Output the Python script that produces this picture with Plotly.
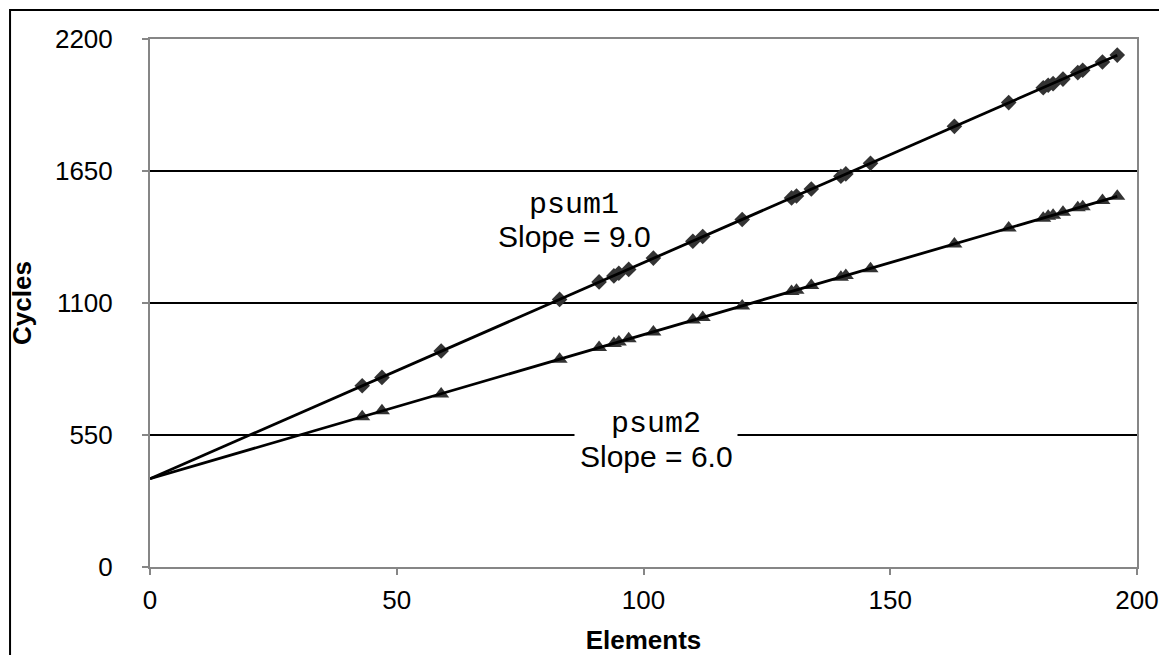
import numpy as np
import plotly.graph_objects as go

# ---- data ----
elements = [43, 47, 59, 83, 91, 94, 95, 97, 102, 110, 112, 120, 130, 131, 134,
            140, 141, 146, 163, 174, 181, 182, 183, 185, 188, 189, 193, 196]
psum1_cycles = [755, 790, 900, 1115, 1188, 1213, 1224, 1240, 1287, 1357, 1377, 1448,
                1538, 1546, 1575, 1628, 1638, 1682, 1836, 1935, 1997, 2007, 2014,
                2033, 2060, 2070, 2104, 2133]
psum2_cycles = [626, 651, 721, 866, 915, 931, 938, 951, 979, 1029, 1040, 1088,
                1148, 1153, 1173, 1207, 1215, 1243, 1346, 1413, 1453, 1461, 1466,
                1478, 1497, 1501, 1527, 1545]
x_ticks = [0, 50, 100, 150, 200]
y_ticks = [0, 550, 1100, 1650, 2200]

SANS = "Liberation Sans, Arial, sans-serif"
MONO = "Liberation Mono, Courier New, monospace"
AXIS_GRAY = "#868686"
MARK = "#333333"

fig = go.Figure()

series = [
    ("psum1", psum1_cycles, "diamond", 12),
    ("psum2", psum2_cycles, "triangle-up", 14),
]
for name, ys, sym, msize in series:
    fig.add_trace(go.Scatter(
        x=elements, y=ys, mode="markers", name=name,
        marker=dict(symbol=sym, size=msize, color=MARK, line=dict(width=0)),
        showlegend=False))
for name, ys, sym, msize in series:
    slope, icpt = np.polyfit(elements, ys, 1)
    xs = [0, max(elements)]
    fig.add_trace(go.Scatter(
        x=xs, y=[icpt + slope * v for v in xs], mode="lines",
        line=dict(color="black", width=2.8), showlegend=False,
        hoverinfo="skip"))

# labels
fig.add_annotation(x=86, y=1510, text="psum1", showarrow=False,
                   font=dict(family=MONO, size=30, color="black"))
fig.add_annotation(x=86, y=1378, text="Slope = 9.0", showarrow=False,
                   font=dict(family=SANS, size=30, color="black"))
fig.add_annotation(x=102.6, y=595, text="psum2", showarrow=False,
                   width=160, bgcolor="white",
                   font=dict(family=MONO, size=30, color="black"))
fig.add_annotation(x=102.6, y=460, text="Slope = 6.0", showarrow=False,
                   font=dict(family=SANS, size=30, color="black"))

# outer chart border (extends past the right and bottom edges)
fig.add_shape(type="rect", xref="paper", yref="paper",
              x0=-0.1418, x1=1.1, y0=-0.2, y1=1.0549,
              line=dict(color="black", width=2), layer="below")

axis_common = dict(
    showline=True, linecolor=AXIS_GRAY, linewidth=2, mirror=True,
    ticks="outside", ticklen=6, tickwidth=2, tickcolor=AXIS_GRAY,
    zeroline=False, tickfont=dict(family=SANS, size=26, color="black"),
)
fig.update_xaxes(range=[0, 200], tickvals=x_ticks, showgrid=False,
                 ticklabelstandoff=3,
                 title=dict(text="<b>Elements</b>", standoff=18,
                            font=dict(family=SANS, size=26, color="black")),
                 **axis_common)
fig.update_yaxes(range=[0, 2200], tickvals=y_ticks, showgrid=True,
                 gridcolor="black", gridwidth=2, ticklabelstandoff=24,
                 title=dict(text="<b>Cycles</b>", standoff=16,
                            font=dict(family=SANS, size=26, color="black")),
                 **axis_common)

fig.update_layout(
    width=1159, height=655,
    margin=dict(l=150, r=22, t=39, b=88, autoexpand=False),
    paper_bgcolor="white", plot_bgcolor="white",
    font=dict(family=SANS, color="black"),
    showlegend=False,
)

fig.write_html("out.html",
               config={"displayModeBar": False},
               post_script="document.body.style.margin='0';"
                           "document.body.style.overflow='hidden';")
